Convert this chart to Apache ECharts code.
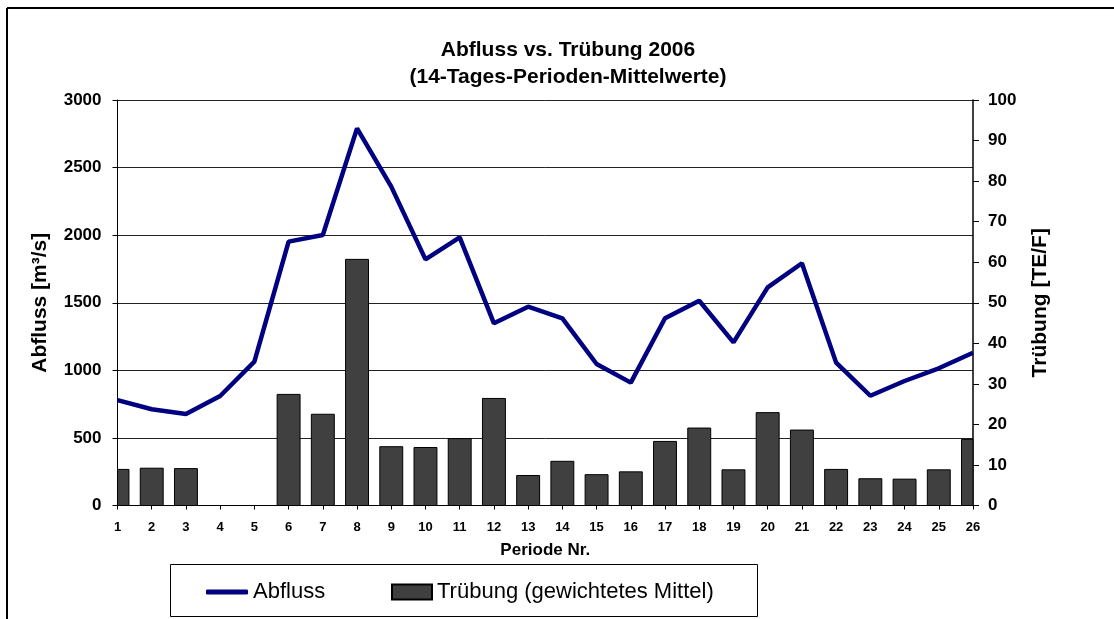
<!DOCTYPE html>
<html>
<head>
<meta charset="utf-8">
<script src="https://cdn.jsdelivr.net/npm/echarts@6/dist/echarts.min.js"></script>
<style>
  html, body { margin: 0; padding: 0; background: #fff; }
  #main { width: 1114px; height: 619px; }
</style>
</head>
<body>
<div id="main"></div>
<script>
var perioden = [1, 2, 3, 4, 5, 6, 7, 8, 9, 10, 11, 12, 13, 14, 15, 16, 17, 18, 19, 20, 21, 22, 23, 24, 25, 26];
// Abfluss [m3/s]
var abfluss = [780, 712, 677, 810, 1064, 1952, 2001, 2790, 2359, 1821, 1984, 1348, 1471,
               1385, 1047, 909, 1385, 1515, 1207, 1614, 1792, 1057, 812, 921, 1015, 1130];
// Truebung [TE/F], Perioden 4 und 5 ohne Wert
var truebung = [8.9, 9.2, 9.1, null, null, 27.4, 22.5, 60.7, 14.5, 14.3, 16.5, 26.4, 7.4,
                10.9, 7.6, 8.3, 15.8, 19.1, 8.8, 22.9, 18.6, 8.9, 6.6, 6.5, 8.8, 16.3];

var FONT = 'Arial, "Liberation Sans", sans-serif';
var BAR_RATIO = 0.67; // Balkenbreite relativ zum Periodenabstand

var lineData = [];
var barData = [];
for (var i = 0; i < perioden.length; i++) {
  lineData.push([perioden[i], abfluss[i]]);
  if (truebung[i] != null) barData.push([perioden[i], truebung[i]]);
}

// Balken mittig auf der Periode, am Plotrand abgeschnitten (wie in Excel)
function renderBar(params, api) {
  var base = api.coord([api.value(0), 0]);
  var top = api.coord([api.value(0), api.value(1)]);
  var w = api.size([1, 0])[0] * BAR_RATIO;
  var cs = params.coordSys;
  var rect = echarts.graphic.clipRectByRect(
    { x: base[0] - w / 2, y: top[1], width: w, height: base[1] - top[1] },
    { x: cs.x, y: cs.y, width: cs.width, height: cs.height }
  );
  if (!rect) return;
  return {
    type: 'rect',
    shape: rect,
    style: { fill: '#404040', stroke: '#000', lineWidth: 1 }
  };
}

function plain(v) { return String(v); }

var myChart = echarts.init(document.getElementById('main'));

var option = {
  backgroundColor: '#fff',
  animation: false,
  title: {
    text: 'Abfluss vs. Trübung 2006\n(14-Tages-Perioden-Mittelwerte)',
    left: 563,
    top: 32,
    textAlign: 'center',
    textStyle: { fontFamily: FONT, fontSize: 21, fontWeight: 'bold', color: '#000', lineHeight: 27 }
  },
  grid: { left: 117.5, right: 141, top: 100, bottom: 113.5 },
  legend: [
    {
      data: ['Abfluss'],
      left: 201, top: 576,
      itemWidth: 42, itemHeight: 5,
      icon: 'roundRect',
      textStyle: { fontFamily: FONT, fontSize: 22, color: '#000' }
    },
    {
      data: ['Trübung (gewichtetes Mittel)'],
      left: 386, top: 576,
      itemWidth: 40, itemHeight: 15,
      icon: 'rect',
      textStyle: { fontFamily: FONT, fontSize: 22, color: '#000' }
    }
  ],
  xAxis: {
    type: 'value',
    min: 1, max: 26, interval: 1,
    name: 'Periode Nr.',
    nameLocation: 'middle',
    nameGap: 36,
    nameTextStyle: { fontFamily: FONT, fontSize: 17, fontWeight: 'bold', color: '#000' },
    axisLine: { lineStyle: { color: '#000', width: 1 } },
    axisTick: { show: true, length: 4, lineStyle: { color: '#000' } },
    axisLabel: { fontFamily: FONT, fontSize: 13, fontWeight: 'bold', color: '#000', margin: 15 },
    splitLine: { show: false }
  },
  yAxis: [
    {
      type: 'value',
      min: 0, max: 3000, interval: 500,
      name: 'Abfluss [m³/s]',
      nameLocation: 'middle',
      nameGap: 67,
      nameRotate: 90,
      nameTextStyle: { fontFamily: FONT, fontSize: 21, fontWeight: 'bold', color: '#000' },
      axisLine: { show: true, lineStyle: { color: '#000', width: 1 } },
      axisTick: { show: true, length: 5, lineStyle: { color: '#000' } },
      axisLabel: { fontFamily: FONT, fontSize: 17, fontWeight: 'bold', color: '#000', margin: 16, formatter: plain },
      splitLine: { show: true, lineStyle: { color: '#222', width: 1 } }
    },
    {
      type: 'value',
      min: 0, max: 100, interval: 10,
      name: 'Trübung [TE/F]',
      nameLocation: 'middle',
      nameGap: 57,
      nameRotate: 90,
      nameTextStyle: { fontFamily: FONT, fontSize: 21, fontWeight: 'bold', color: '#000' },
      axisLine: { show: true, lineStyle: { color: '#000', width: 1.5 } },
      axisTick: { show: true, length: 6, lineStyle: { color: '#000' } },
      axisLabel: { fontFamily: FONT, fontSize: 17, fontWeight: 'bold', color: '#000', margin: 15, formatter: plain },
      splitLine: { show: false }
    }
  ],
  series: [
    {
      name: 'Trübung (gewichtetes Mittel)',
      type: 'custom',
      yAxisIndex: 1,
      renderItem: renderBar,
      encode: { x: 0, y: 1 },
      data: barData,
      itemStyle: { color: '#404040', borderColor: '#000', borderWidth: 1 },
      z: 2
    },
    {
      name: 'Abfluss',
      type: 'line',
      yAxisIndex: 0,
      data: lineData,
      showSymbol: false,
      symbol: 'none',
      lineStyle: { color: '#000080', width: 4.5 },
      itemStyle: { color: '#000080' },
      z: 3
    }
  ],
  graphic: [
    { type: 'line', shape: { x1: 7, y1: 8, x2: 1114, y2: 8 }, style: { stroke: '#000', lineWidth: 2 } },
    { type: 'line', shape: { x1: 7, y1: 8, x2: 7, y2: 619 }, style: { stroke: '#000', lineWidth: 2 } },
    { type: 'rect', shape: { x: 170.5, y: 564.5, width: 587, height: 52 }, style: { fill: 'none', stroke: '#000', lineWidth: 1 } }
  ]
};

myChart.setOption(option);
</script>
</body>
</html>
